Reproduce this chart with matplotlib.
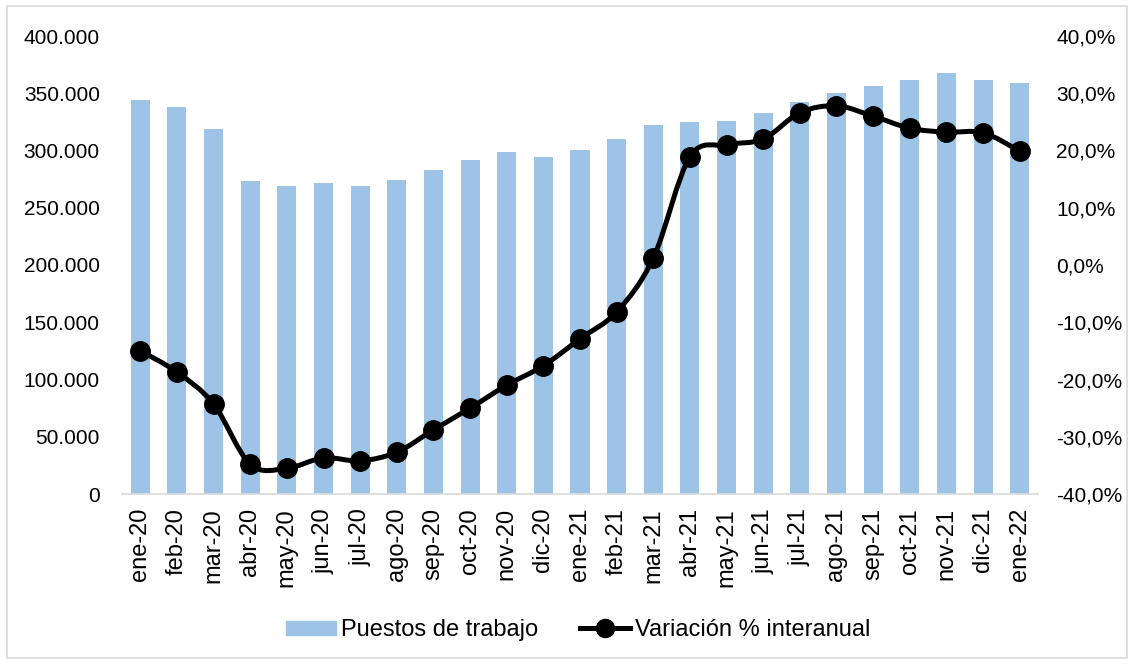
import matplotlib
matplotlib.use("Agg")
import matplotlib.pyplot as plt
from matplotlib.path import Path
from matplotlib.patches import PathPatch, Rectangle
from matplotlib.lines import Line2D
from matplotlib.ticker import FuncFormatter
import numpy as np

plt.rcParams['font.family'] = ['Liberation Sans', 'DejaVu Sans']

months = ["ene-20", "feb-20", "mar-20", "abr-20", "may-20", "jun-20", "jul-20",
          "ago-20", "sep-20", "oct-20", "nov-20", "dic-20", "ene-21", "feb-21",
          "mar-21", "abr-21", "may-21", "jun-21", "jul-21", "ago-21", "sep-21",
          "oct-21", "nov-21", "dic-21", "ene-22"]
puestos = [344000, 338000, 319000, 273000, 269000, 272000, 269000, 274000,
           283000, 292000, 299000, 294000, 300000, 310000, 322000, 325000,
           326000, 333000, 342000, 350000, 356000, 362000, 368000, 362000, 359000]
variacion = [-15.0, -18.7, -24.3, -34.8, -35.5, -33.7, -34.2, -32.7, -28.8,
             -25.0, -21.0, -17.6, -12.9, -8.2, 1.2, 18.9, 21.0, 22.0, 26.6,
             27.8, 26.0, 23.9, 23.2, 23.1, 19.9]

bar_color = "#9DC3E6"
fig = plt.figure(figsize=(11.34, 6.64), dpi=100)
fig.patches.append(Rectangle((0.006, 0.009), 0.988, 0.982, transform=fig.transFigure,
                             fill=False, edgecolor="#D9D9D9", linewidth=1.2))
ax = fig.add_axes([122/1134, 1-494/664, (1038-122)/1134, (494-36)/664])
x = np.arange(len(months))
ax.bar(x, puestos, width=0.52, color=bar_color, zorder=1)
ax.set_xlim(-0.5, len(months)-0.5)
ax.set_ylim(0, 400000)
ax.set_yticks(np.arange(0, 400001, 50000))
ax.yaxis.set_major_formatter(FuncFormatter(lambda v, p: f"{int(v):,}".replace(",", ".")))
ax.set_xticks(x)
ax.set_xticklabels(months, rotation=90, fontsize=17)
ax.tick_params(axis='y', labelsize=15, length=0, pad=16)
ax.tick_params(axis='x', length=0, pad=10)
for s in ["top", "right", "left"]:
    ax.spines[s].set_visible(False)
ax.spines["bottom"].set_color("#D9D9D9")
ax.spines["bottom"].set_linewidth(1.2)

ax2 = ax.twinx()
ax2.set_ylim(-40, 40)
ax2.set_yticks(np.arange(-40, 41, 10))
ax2.yaxis.set_major_formatter(FuncFormatter(lambda v, p: f"{v:.1f}%".replace(".", ",")))
ax2.tick_params(axis='y', labelsize=15, length=0, pad=13)
for s in ["top", "right", "left", "bottom"]:
    ax2.spines[s].set_visible(False)

# smooth curve (Catmull-Rom via cubic Bezier) through the data points
pts = np.column_stack([x, variacion]).astype(float)
verts = [tuple(pts[0])]
codes = [Path.MOVETO]
n = len(pts)
for i in range(n-1):
    p0 = pts[i-1] if i > 0 else pts[i]
    p1 = pts[i]
    p2 = pts[i+1]
    p3 = pts[i+2] if i+2 < n else pts[i+1]
    c1 = p1 + (p2 - p0) / 6.0
    c2 = p2 - (p3 - p1) / 6.0
    verts += [tuple(c1), tuple(c2), tuple(p2)]
    codes += [Path.CURVE4]*3
ax2.add_patch(PathPatch(Path(verts, codes), facecolor='none', edgecolor='black',
                        linewidth=3.6, zorder=3, capstyle='round', joinstyle='round'))
ax2.plot(x, variacion, linestyle='none', marker='o', markersize=14, color='black', zorder=4)

handles = [Rectangle((0, 0), 1, 1, color=bar_color),
           Line2D([0], [0], color='black', linewidth=3.6, marker='o', markersize=13)]
fig.legend(handles, ["Puestos de trabajo", "Variación % interanual"],
           loc='center', bbox_to_anchor=(578/1134, 1-630/664), ncol=2, frameon=False,
           fontsize=17, handlelength=2.15, handleheight=0.55, handletextpad=0.2,
           columnspacing=1.75)

fig.savefig("out.png", dpi=100)
